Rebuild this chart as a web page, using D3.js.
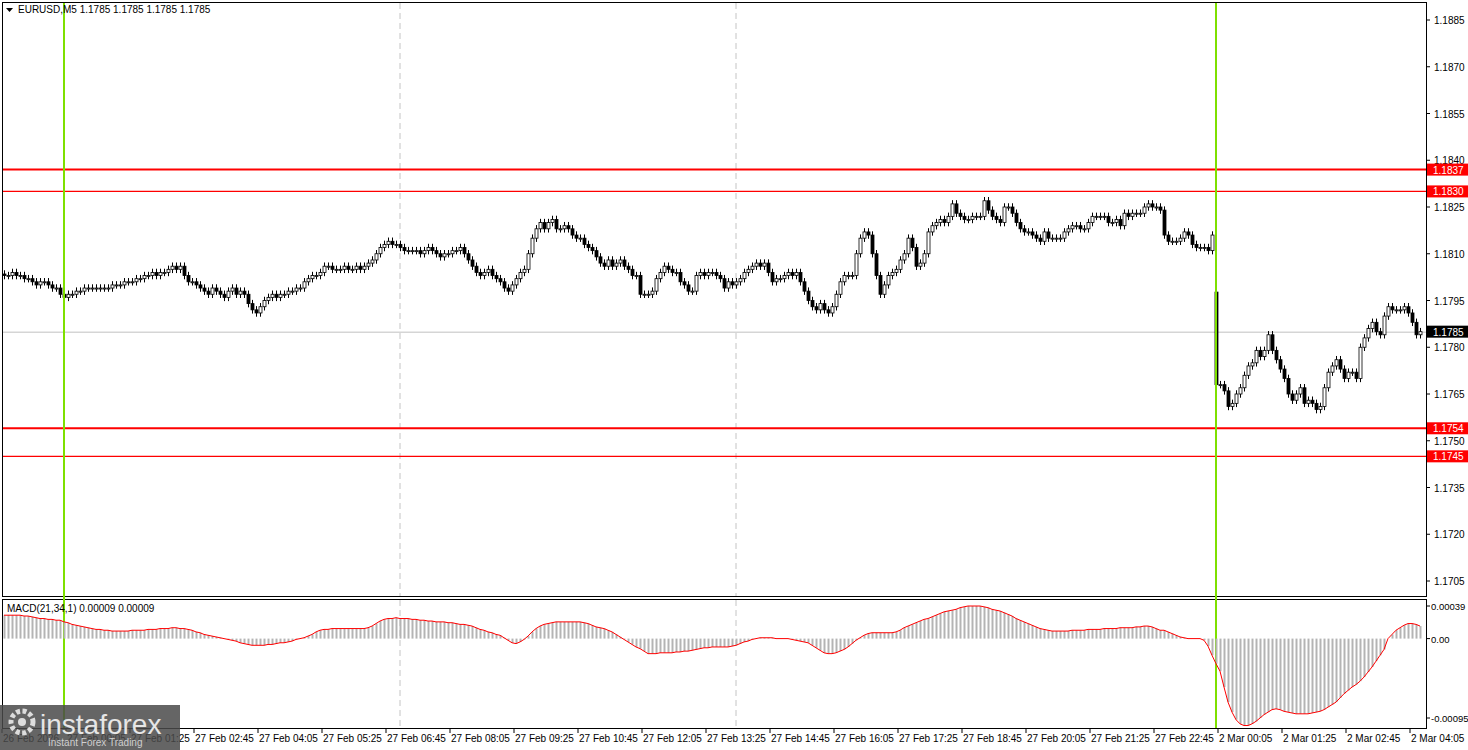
<!DOCTYPE html>
<html><head><meta charset="utf-8">
<script src="https://cdn.jsdelivr.net/npm/d3@7"></script>
<style>body{margin:0;background:#fff}svg{display:block}text{font-family:"Liberation Sans",Arial,sans-serif}</style>
</head><body><svg id="c" width="1468" height="750"></svg>
<script>
// closes in pips above 1.1700, one per M5 bar (bar 0 = 26 Feb 22:45)
const closes = [
  103,103,104,103,103,102,102,101,100,101,101,100,99,99,97,
  96,97,97,98,98,99,99,99,99,99,99,99,100,100,100,101,
  101,101,102,102,103,103,104,103,104,104,105,106,105,106,
  103,101,101,100,99,98,
  97,99,98,97,96,98,99,97,98,97,
  94,92,91,93,95,
  96,97,96,97,97,98,98,99,99,
  101,102,103,103,104,
  106,106,105,105,105,106,105,105,106,105,
  106,107,108,110,112,
  113,114,113,113,112,
  111,111,111,111,110,111,112,111,110,109,
  110,110,111,111,112,110,108,106,
  104,103,
  104,105,103,102,101,
  99,98,100,
  102,104,105,110,
  115,118,120,118,120,121,118,
  118,119,118,
  116,115,115,113,112,111,
  109,107,106,108,106,107,108,106,105,103,103,
  97,97,97,98,
  102,104,106,105,
  104,104,101,100,98,98,
  103,104,103,104,104,103,102,
  99,101,100,101,102,
  104,105,106,107,106,107,104,
  101,102,102,103,104,103,104,101,
  98,95,93,92,94,92,91,93,
  97,101,103,103,103,
  110,115,117,116,
  110,103,97,100,103,104,
  105,108,110,115,112,106,107,110,
  117,119,120,121,120,122,126,123,122,
  121,121,122,122,122,
  127,124,
  122,121,120,125,125,123,
  120,118,117,117,116,115,114,
  117,115,115,115,115,
  117,118,119,119,118,118,120,
  122,122,122,122,120,120,121,119,
  123,122,123,123,123,125,126,125,125,124,
  116,114,114,114,115,117,116,
  113,112,112,112,111,116,
  68,
  68,66,61,62,
  65,67,71,74,75,
  79,77,79,84,79,
  76,73,70,65,63,65,67,
  62,63,62,60,61,
  67,72,74,76,73,
  70,72,72,70,
  80,83,86,
  88,85,84,90,
  93,92,92,92,93,91,
  88,84,85
]
// opening gaps (bar index -> open in pips)
const gapOpens = { 303: 97.7 }

// MACD(21,34,1) in 1e-5 units, one per bar
const macd = [
  28,28,28,28,28,27,27,26,25,24, 24,23,23,22,22,20,19,17,16,15,
  14,13,12,11,11,10,10,9,9,9, 9,9,10,10,10,10,11,11,11,12,
  12,12,13,13,12,12,11,10,8,7, 5,4,3,2,1,0,-1,-2,-3,-5,
  -6,-7,-8,-8,-8,-8,-7,-7,-6,-5, -5,-4,-3,-1,0,1,3,5,8,10,
  11,11,12,12,12,12,12,12,12,12, 12,13,15,18,21,23,24,24,25,24,
  24,24,23,23,22,22,21,21,20,20, 20,19,19,18,17,17,16,15,13,11,
  10,8,7,5,4,1,-2,-5,-6,-4, -1,3,8,12,15,17,18,19,20,20,
  20,20,20,20,20,19,18,16,14,13, 12,10,8,5,2,-1,-4,-7,-10,-12,
  -15,-18,-18,-18,-17,-17,-17,-17,-16,-16, -15,-15,-14,-13,-12,-11,-11,-10,-10,-10,
  -10,-10,-9,-8,-6,-4,-3,-1,0,1, 1,1,1,0,0,0,0,-1,-2,-3,
  -4,-5,-8,-11,-14,-17,-18,-18,-17,-15, -13,-10,-6,-2,1,4,6,7,7,7,
  7,7,7,8,10,13,15,17,19,21, 23,24,26,28,30,32,33,34,35,37,
  38,39,39,39,39,38,37,35,34,33, 31,29,27,24,22,20,18,16,14,12,
  11,10,9,9,9,9,9,10,10,10, 10,11,11,11,11,12,12,12,12,13,
  13,13,13,14,14,15,15,14,12,10, 10,8,6,4,2,1,0,0,0,0,
  -2,-9,-20,-30,-39,-58,-76,-88,-97,-102, -104,-104,-102,-99,-95,-91,-88,-85,-84,-85,
  -87,-88,-89,-90,-90,-90,-90,-89,-88,-87, -85,-82,-79,-76,-71,-66,-62,-58,-55,-51,
  -46,-40,-34,-27,-20,-13,0,5,10,13, 16,18,18,17,15
]

const priceTicks = [1.1885,1.1870,1.1855,1.1840,1.1825,1.1810,1.1795,1.1780,1.1765,1.1750,1.1735,1.1720,1.1705]
const levels = [
  {p: 1.1837, w: 2}, {p: 1.1830, w: 1.2}, {p: 1.1754, w: 2}, {p: 1.1745, w: 1.2}
]
const timeLabels = ["26 Feb 2026","27 Feb 00:05","27 Feb 01:25","27 Feb 02:45","27 Feb 04:05","27 Feb 05:25",
  "27 Feb 06:45","27 Feb 08:05","27 Feb 09:25","27 Feb 10:45","27 Feb 12:05","27 Feb 13:25","27 Feb 14:45",
  "27 Feb 16:05","27 Feb 17:25","27 Feb 18:45","27 Feb 20:05","27 Feb 21:25","27 Feb 22:45",
  "2 Mar 00:05","2 Mar 01:25","2 Mar 02:45","2 Mar 04:05"]
const sessionBars = [15, 303]   // green day separators
const gridBars = [99, 183]      // dashed verticals
const lastPrice = 1.1785

const svg = d3.select("#c")
const W = 1426

const x = d3.scaleLinear().domain([0, 1]).range([4, 8])
const y = d3.scaleLinear().domain([1.1705, 1.1885]).range([581, 20])
const ym = d3.scaleLinear().domain([-0.00095, 0.00039]).range([718, 606])

const bars = closes.map((c, i) => {
  const o = gapOpens[i] != null ? gapOpens[i] : (i ? closes[i - 1] : c + 0.5)
  return {i, o: 1.17 + o / 1e4, c: 1.17 + c / 1e4}
})

// frames
svg.append("rect").attr("x", 2.5).attr("y", 2.5).attr("width", W - 2).attr("height", 594).attr("fill", "none").attr("stroke", "#000")
svg.append("rect").attr("x", 2.5).attr("y", 599.5).attr("width", W - 2).attr("height", 129).attr("fill", "none").attr("stroke", "#000")

// grid / separators
gridBars.forEach(b => {
  [[3, 596], [600, 728]].forEach(([a, z]) => svg.append("line").attr("x1", x(b)).attr("x2", x(b)).attr("y1", a).attr("y2", z)
    .attr("stroke", "#c4c4c4").attr("stroke-dasharray", "6,4"))
})
svg.append("line").attr("x1", 3).attr("x2", W).attr("y1", y(lastPrice) + 0.5).attr("y2", y(lastPrice) + 0.5).attr("stroke", "#c0c0c0")

// levels
levels.forEach(l => {
  svg.append("line").attr("x1", 3).attr("x2", W).attr("y1", y(l.p)).attr("y2", y(l.p)).attr("stroke", "#ff0000").attr("stroke-width", l.w)
})

// candles
const g = svg.append("g")
g.selectAll("line.w").data(bars).join("line")
  .attr("x1", d => x(d.i) + 0.5).attr("x2", d => x(d.i) + 0.5)
  .attr("y1", d => y(Math.max(d.o, d.c) + 0.00012)).attr("y2", d => y(Math.min(d.o, d.c) - 0.00012))
  .attr("stroke", "#000")
g.selectAll("rect").data(bars).join("rect")
  .attr("x", d => x(d.i) - 1).attr("width", 3)
  .attr("y", d => y(Math.max(d.o, d.c)))
  .attr("height", d => Math.max(1, Math.abs(y(d.o) - y(d.c))))
  .attr("fill", d => d.c >= d.o ? "#fff" : "#000").attr("stroke", "#000").attr("stroke-width", 0.8)

sessionBars.forEach(b => {
  svg.append("line").attr("x1", x(b)).attr("x2", x(b)).attr("y1", 3).attr("y2", 728).attr("stroke", "#7ee000").attr("stroke-width", 2)
})

// macd
svg.append("g").selectAll("line").data(macd).join("line")
  .attr("x1", (d, i) => x(i) + 0.5).attr("x2", (d, i) => x(i) + 0.5)
  .attr("y1", ym(0)).attr("y2", d => ym(d / 1e5))
  .attr("stroke", "#b4b4b4").attr("stroke-width", 2)
svg.append("path").datum(macd)
  .attr("d", d3.line().x((d, i) => x(i)).y(d => ym(d / 1e5)))
  .attr("fill", "none").attr("stroke", "#ff0000").attr("stroke-width", 1)

// right axis
const ax = svg.append("g").attr("font-size", 10)
priceTicks.forEach(p => {
  ax.append("line").attr("x1", W).attr("x2", W + 4).attr("y1", y(p)).attr("y2", y(p)).attr("stroke", "#000")
  ax.append("text").attr("x", W + 8).attr("y", y(p) + 4).text(p.toFixed(4))
})
;[[0.00039, "0.00039"], [0, "0.00"], [-0.00095, "-0.00095"]].forEach(([v, t]) => {
  ax.append("line").attr("x1", W).attr("x2", W + 4).attr("y1", ym(v)).attr("y2", ym(v)).attr("stroke", "#000")
  ax.append("text").attr("x", W + 5).attr("y", ym(v) + 4).attr("font-size", 9.5).text(t)
})
levels.forEach(l => {
  ax.append("rect").attr("x", W + 1).attr("y", y(l.p) - 6).attr("width", 41).attr("height", 12).attr("fill", "#ff0000")
  ax.append("text").attr("x", W + 7).attr("y", y(l.p) + 4).attr("fill", "#fff").text(l.p.toFixed(4))
})
ax.append("rect").attr("x", W + 1).attr("y", y(lastPrice) - 6).attr("width", 41).attr("height", 12).attr("fill", "#000")
ax.append("text").attr("x", W + 7).attr("y", y(lastPrice) + 4).attr("fill", "#fff").text(lastPrice.toFixed(4))

// time axis
const tx = svg.append("g").attr("font-size", 10)
timeLabels.forEach((t, k) => {
  const xp = x(16 * k) - 2
  tx.append("line").attr("x1", xp).attr("x2", xp).attr("y1", 729).attr("y2", 733).attr("stroke", "#000")
  tx.append("text").attr("x", xp + 1).attr("y", 742).text(t)
})

// titles
svg.append("path").attr("d", "M6,8 L13,8 L9.5,12 Z").attr("fill", "#000")
svg.append("text").attr("x", 18).attr("y", 13).attr("font-size", 10).text("EURUSD,M5  1.1785 1.1785 1.1785 1.1785")
svg.append("text").attr("x", 7).attr("y", 612).attr("font-size", 10).text("MACD(21,34,1) 0.00009 0.00009")

// watermark
const wm = svg.append("g")
wm.append("rect").attr("x", 0).attr("y", 705).attr("width", 180).attr("height", 45).attr("fill", "#4a4a4a").attr("opacity", 0.85)
wm.append("circle").attr("cx", 22).attr("cy", 722).attr("r", 11).attr("fill", "none").attr("stroke", "#ddd").attr("stroke-width", 5).attr("stroke-dasharray", "4,2.5")
wm.append("circle").attr("cx", 22).attr("cy", 722).attr("r", 4).attr("fill", "#ddd")
wm.append("text").attr("x", 40).attr("y", 734).attr("font-size", 28).attr("fill", "#e6e6e6").attr("font-family", "Open Sans").text("instaforex")
wm.append("text").attr("x", 48).attr("y", 746).attr("font-size", 10).attr("fill", "#cfcfcf").text("Instant Forex Trading")
</script></body></html>
